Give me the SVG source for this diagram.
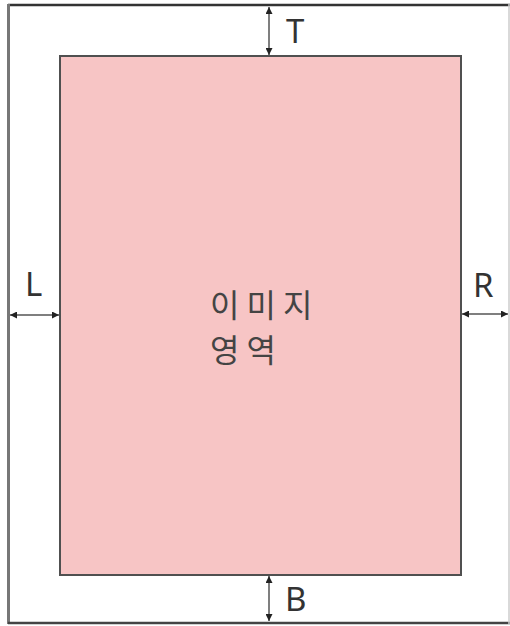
<svg xmlns="http://www.w3.org/2000/svg" width="510" height="626" viewBox="0 0 510 626">
<defs>
<style>
.lbl{font-family:"Noto Sans","Liberation Sans",sans-serif;font-size:33px;fill:#333}
.kr{font-family:"Noto Sans CJK KR","Noto Sans",sans-serif;font-size:32px;fill:#444;letter-spacing:7px}
.dim{stroke:#555;stroke-width:1.5;fill:none;marker-start:url(#ah);marker-end:url(#ah)}
</style>
<marker id="ah" viewBox="0 0 10 10" refX="10" refY="5" markerWidth="7" markerHeight="7" markerUnits="userSpaceOnUse" orient="auto-start-reverse">
<path d="M0,0 L10,5 L0,10 z" fill="#222"/>
</marker>
</defs>
<rect width="510" height="626" fill="#fff"/>
<g id="page">
<line x1="8" y1="5" x2="510" y2="5" stroke="#333" stroke-width="2.5"/>
<line x1="8.5" y1="4" x2="8.5" y2="624" stroke="#777" stroke-width="3"/>
<line x1="8" y1="623" x2="510" y2="623" stroke="#444" stroke-width="2.5"/>
<line x1="509" y1="4" x2="509" y2="624" stroke="#ccc" stroke-width="1.5"/>
</g>
<g id="image-area">
<rect x="60" y="56" width="401" height="519" fill="#f7c5c5" stroke="#505050" stroke-width="2"/>
<text class="kr" x="210" y="317">이미지</text>
<text class="kr" x="210" y="362">영역</text>
</g>
<g id="connectors">
<line class="dim" x1="269" y1="7" x2="269" y2="55"/>
<line class="dim" x1="10" y1="315" x2="59" y2="315"/>
<line class="dim" x1="462" y1="314" x2="508" y2="314"/>
<line class="dim" x1="269" y1="576" x2="269" y2="621"/>
</g>
<g id="labels">
<text class="lbl" x="286" y="43">T</text>
<text class="lbl" x="25" y="296">L</text>
<text class="lbl" x="473" y="297">R</text>
<text class="lbl" x="285" y="611">B</text>
</g>
</svg>
